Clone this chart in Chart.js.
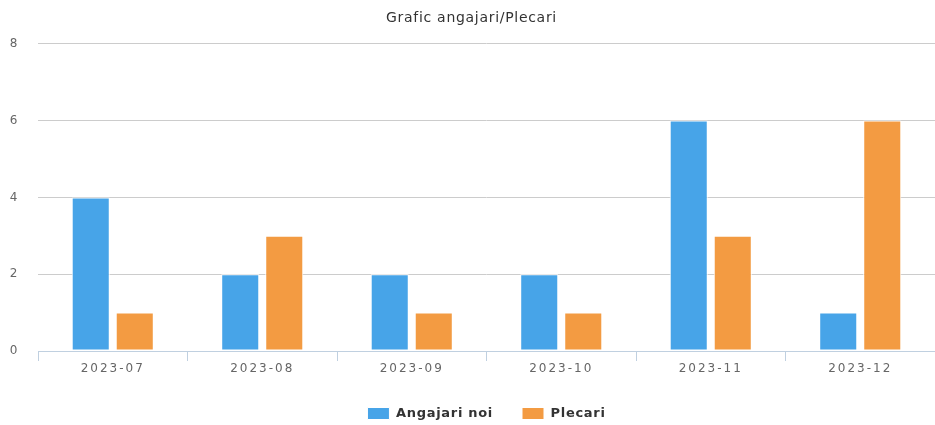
<!DOCTYPE html>
<html>
<head>
<meta charset="utf-8">
<script src="https://cdn.jsdelivr.net/npm/chart.js@4/dist/chart.umd.min.js"></script>
<style>
html,body{margin:0;padding:0;background:#fff;overflow:hidden;}
#wrap{width:935px;height:425px;position:relative;overflow:hidden;}
</style>
</head>
<body>
<div id="wrap"><canvas id="c" width="935" height="430"></canvas></div>
<script>
const categories = ['2023-07','2023-08','2023-09','2023-10','2023-11','2023-12'];
const angajariNoi = [4,2,2,2,6,1];
const plecari = [1,3,1,1,3,6];
const yTicks = [0,2,4,6,8];

const spacingPlugin = {
  id:'spacing',
  beforeLayout(chart){ chart.ctx.letterSpacing = '0.7px'; },
  beforeDraw(chart){ chart.ctx.letterSpacing = '0.7px'; },
  afterDatasetsDraw(chart){ chart.ctx.letterSpacing = '2px'; },
  afterDraw(chart){ chart.ctx.letterSpacing = '0px'; }
};

new Chart(document.getElementById('c'), {
  type: 'bar',
  data: {
    labels: categories,
    datasets: [
      {label:'Angajari noi', data: angajariNoi, backgroundColor:'#47a4e8', borderColor:'#ffffff', borderWidth:1, borderSkipped:false, barPercentage:0.864, categoryPercentage:0.589},
      {label:'Plecari', data: plecari, backgroundColor:'#f39b42', borderColor:'#ffffff', borderWidth:1, borderSkipped:false, barPercentage:0.864, categoryPercentage:0.589}
    ]
  },
  plugins:[spacingPlugin],
  options: {
    responsive:false,
    animation:false,
    devicePixelRatio:1,
    layout:{padding:{left:8,right:0,top:0,bottom:0}},
    plugins:{
      title:{display:true, text:'Grafic angajari/Plecari', color:'#333',
        font:{family:"'DejaVu Sans',sans-serif", size:14, weight:'normal', lineHeight:1.2},
        padding:{top:10,bottom:17}},
      legend:{position:'bottom', fullSize:false, labels:{boxWidth:22, boxHeight:12, color:'#333', padding:29,
        font:{family:"'DejaVu Sans',sans-serif", size:13, weight:'bold'}}},
      tooltip:{enabled:false}
    },
    scales:{
      x:{
        afterFit: ax => { ax.height = 27; ax.paddingLeft = 0; ax.paddingRight = 0; },
        grid:{display:true, drawOnChartArea:false, drawTicks:true, tickLength:10, color:'#c0d0e0', offset:true},
        border:{display:true, color:'#c0d0e0', width:1},
        ticks:{z:1, color:'#666', padding:1, font:{family:"'DejaVu Sans',sans-serif", size:12}}
      },
      y:{
        min:0, max:8,
        afterBuildTicks: ax => { ax.ticks = yTicks.map(v => ({value:v})); },
        afterFit: ax => { ax.width = 30; },
        grid:{color:'#cccccc', drawTicks:false, lineWidth:1},
        border:{display:false},
        ticks:{color:'#666', padding:20, font:{family:"'DejaVu Sans',sans-serif", size:12}}
      }
    }
  }
});
</script>
</body>
</html>
